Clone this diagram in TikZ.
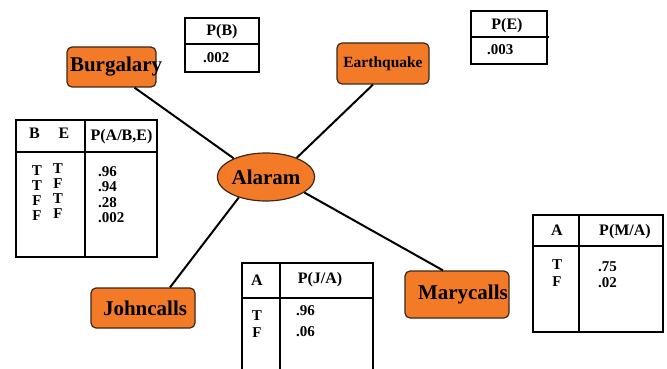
\documentclass[tikz,border=0pt]{standalone}
\usepackage{fontspec}
\setmainfont{Liberation Serif}
\usetikzlibrary{shapes.geometric}
\definecolor{nodeorange}{RGB}{243,123,40}
\definecolor{nodeedge}{RGB}{60,40,25}
\begin{document}
\begin{tikzpicture}[x=1pt,y=-1pt,
  varbox/.style={draw=nodeedge, line width=1.2pt, fill=nodeorange, rounded corners=5pt,
    inner sep=0pt, font=\fontsize{21}{21}\selectfont\bfseries},
  link/.style={line width=2pt, black},
  tframe/.style={line width=1.4pt},
  tdiv/.style={line width=2pt},
  thead/.style={font=\fontsize{16}{16}\selectfont\bfseries, anchor=base, inner sep=0pt},
  tcell/.style={font=\fontsize{15}{15}\selectfont\bfseries, anchor=base, inner sep=0pt},
  tval/.style={tcell, anchor=base west}]
\useasboundingbox (0,0) rectangle (667,369);

% variables of the network
\node[varbox, minimum width=89pt, minimum height=40pt] (burg) at (111.5,67)
  {\makebox[89pt][l]{\hspace*{3pt}Burgalary}};
\node[varbox, minimum width=92pt, minimum height=41pt,
      font=\fontsize{15.5}{15.5}\selectfont\bfseries] (quake) at (383,63.5) {Earthquake};
\node[varbox, minimum width=104pt, minimum height=40pt] (john) at (143,308)
  {\makebox[104pt][l]{\hspace*{12pt}Johncalls}};
\node[varbox, minimum width=104pt, minimum height=47pt] (mary) at (457,294.5)
  {\makebox[104pt][l]{\hspace*{13pt}Marycalls}};
\node[draw=nodeedge, line width=1.2pt, fill=nodeorange, ellipse, inner sep=0pt,
      minimum width=97pt, minimum height=48pt,
      font=\fontsize{21}{21}\selectfont\bfseries] (alarm) at (266,177) {Alaram};

% arcs
\draw[link] ([xshift=23pt]burg.south) -- (alarm.150);
\draw[link] ([xshift=-10pt]quake.south) -- (alarm.32);
\draw[link] (alarm.217) -- ([xshift=27pt]john.north);
\draw[link] (alarm.338) -- ([xshift=-14pt]mary.north);

% P(B)
\draw[tframe] (185,18) rectangle (259,72);
\draw[tdiv] (185,44) -- (259,44);
\node[thead] (pbh) at (222,36) {P(B)};
\node[tval] (pbv) at (203,62.5) {.002};

% P(E)
\draw[tframe] (471,11) rectangle (547,64);
\draw[tdiv] (471,37) -- (549,37);
\node[thead] (peh) at (507,30) {P(E)};
\node[tval] (pev) at (487,54.5) {.003};

% P(A|B,E)
\draw[tframe] (16,120) rectangle (157,257);
\draw[tdiv] (16,152) -- (157,152);
\draw[tdiv] (85,120) -- (85,257);
\node[thead] (pab) at (34.5,139) {B};
\node[thead] (pae) at (64,139) {E};
\node[thead] (pah) at (121.5,140) {P(A/B,E)};
\node[tcell] (pab1) at (37,175) {T};
\node[tcell] (pab2) at (37,190) {T};
\node[tcell] (pab3) at (37,205) {F};
\node[tcell] (pab4) at (37,220) {F};
\node[tcell] (pae1) at (58,173) {T};
\node[tcell] (pae2) at (58,188) {F};
\node[tcell] (pae3) at (58,203) {T};
\node[tcell] (pae4) at (58,218) {F};
\node[tval] (pav1) at (98,176) {.96};
\node[tval] (pav2) at (98,191.5) {.94};
\node[tval] (pav3) at (98,207) {.28};
\node[tval] (pav4) at (98,222) {.002};

% P(J|A)
\draw[tframe] (242,375) -- (242,263) -- (373,263) -- (373,375);
\draw[tdiv] (242,298) -- (373,298);
\draw[tdiv] (280,263) -- (280,375);
\node[thead] (pja) at (257,285) {A};
\node[thead] (pjh) at (320,283) {P(J/A)};
\node[tcell] (pja1) at (257,320) {T};
\node[tcell] (pja2) at (257,337) {F};
\node[tval] (pjv1) at (296,315) {.96};
\node[tval] (pjv2) at (296,336) {.06};

% P(M|A)
\draw[tframe] (533,215) rectangle (663,332);
\draw[tdiv] (533,246) -- (663,246);
\draw[tdiv] (579,215) -- (579,332);
\node[thead] (pma) at (557,235) {A};
\node[thead] (pmh) at (625,235) {P(M/A)};
\node[tcell] (pma1) at (557,269) {T};
\node[tcell] (pma2) at (557,286) {F};
\node[tval] (pmv1) at (598,271) {.75};
\node[tval] (pmv2) at (598,287) {.02};
\end{tikzpicture}
\end{document}
